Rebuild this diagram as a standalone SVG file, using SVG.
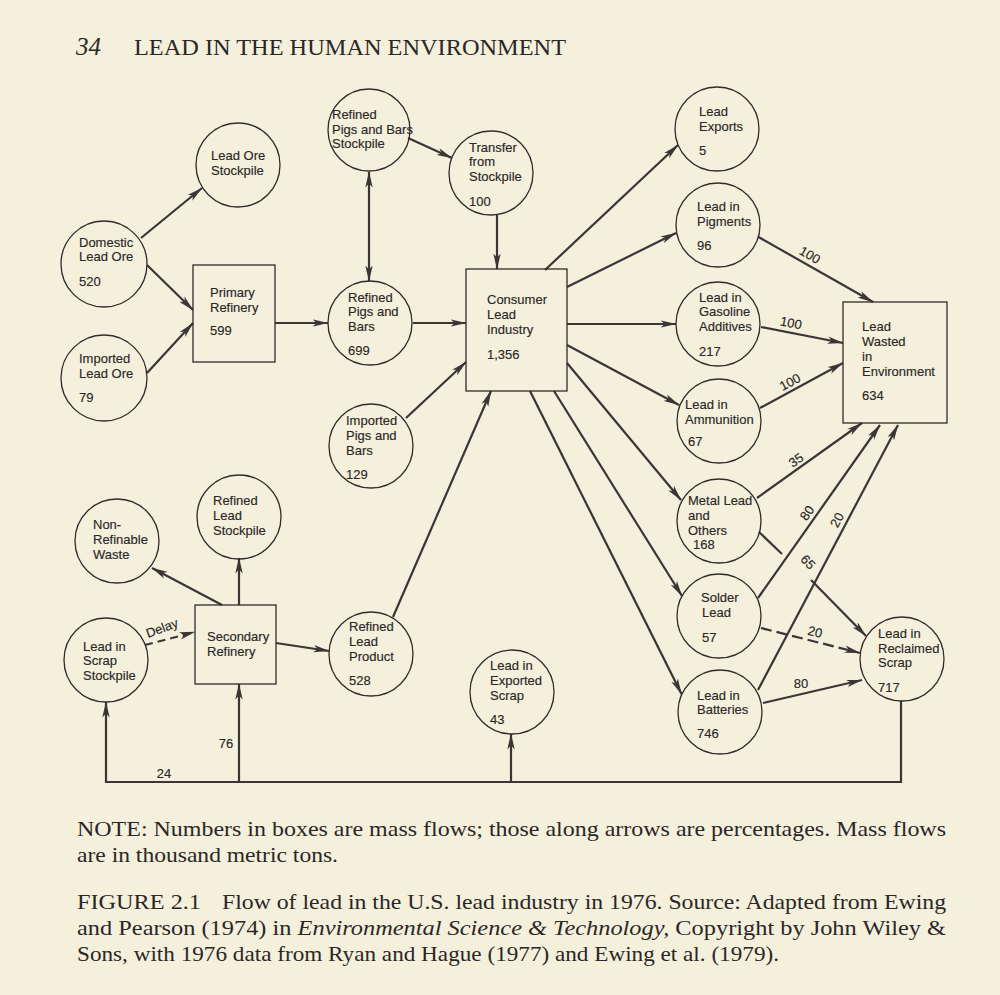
<svg xmlns="http://www.w3.org/2000/svg" width="1000" height="995" viewBox="0 0 1000 995">
<style>
.bg{fill:#f4f0dc}
.nd{fill:none;stroke:#2f2b2b;stroke-width:1.3}
.t{font-family:"Liberation Sans",Arial,sans-serif;font-size:13px;fill:#2b2727;stroke:#2b2727;stroke-width:0.15}
.l{font-family:"Liberation Sans",Arial,sans-serif;font-size:13px;fill:#2b2727;stroke:#2b2727;stroke-width:0.15;text-anchor:middle;dominant-baseline:central}
.c{fill:none;stroke:#3b3636;stroke-width:2.2;marker-end:url(#ah)}
.cn{fill:none;stroke:#3b3636;stroke-width:2.2}
.d{stroke-dasharray:11 5}
.hd{font-family:"Liberation Serif","Times New Roman",serif;fill:#2b2727}
.cap{font-family:"Liberation Serif","Times New Roman",serif;font-size:21.5px;fill:#2b2727}
</style>
<defs>
<marker id="ah" viewBox="0 0 16 8" refX="15.5" refY="4" markerWidth="16" markerHeight="8" markerUnits="userSpaceOnUse" orient="auto-start-reverse">
<path d="M0,0.3 L16,4 L0,7.7 L4,4 z" fill="#3b3636"/>
</marker>
</defs>
<rect class="bg" x="0" y="0" width="1000" height="995"/>

<g id="header">
<text class="hd" x="76" y="55" font-size="25" font-style="italic">34</text>
<text class="hd" x="134" y="55" font-size="23" textLength="432" lengthAdjust="spacingAndGlyphs">LEAD IN THE HUMAN ENVIRONMENT</text>
</g>

<g id="connectors">
<line class="c" x1="141" y1="238" x2="202" y2="188"/>
<line class="c" x1="147" y1="265" x2="193" y2="310"/>
<line class="c" x1="147" y1="373" x2="193" y2="323"/>
<line class="c" x1="275" y1="323" x2="328" y2="323"/>
<line class="c" x1="369" y1="172" x2="369" y2="281" marker-start="url(#ah)"/>
<line class="c" x1="408" y1="138" x2="452" y2="158"/>
<line class="c" x1="497" y1="214" x2="497" y2="269"/>
<line class="c" x1="413" y1="323" x2="466" y2="323"/>
<line class="c" x1="406" y1="418" x2="466" y2="362"/>
<line class="c" x1="393" y1="617" x2="491" y2="391"/>
<line class="c" x1="545" y1="270" x2="678" y2="145"/>
<line class="c" x1="567" y1="287" x2="676" y2="233"/>
<line class="c" x1="567" y1="324" x2="676" y2="324"/>
<line class="c" x1="567" y1="345" x2="679" y2="405"/>
<line class="c" x1="567" y1="363" x2="681" y2="500"/>
<line class="c" x1="554" y1="391" x2="682" y2="596"/>
<line class="c" x1="530" y1="391" x2="681.5" y2="694"/>
<line class="c" x1="758.5" y1="237" x2="873" y2="302"/>
<line class="c" x1="761" y1="327" x2="843" y2="343"/>
<line class="c" x1="760" y1="408" x2="843" y2="363"/>
<line class="c" x1="757" y1="498" x2="862" y2="423"/>
<line class="c" x1="758" y1="598" x2="880" y2="425"/>
<line class="c" x1="758" y1="690" x2="898" y2="425"/>
<line class="cn" x1="759" y1="532" x2="782" y2="554"/>
<line class="c" x1="811" y1="580" x2="866" y2="636"/>
<line class="c d" x1="761" y1="628" x2="860" y2="653"/>
<line class="c" x1="763" y1="703" x2="862" y2="680"/>
<line class="c" x1="222" y1="605" x2="152" y2="568"/>
<line class="c" x1="239" y1="605" x2="239" y2="558"/>
<line class="c" x1="276" y1="643" x2="329" y2="651"/>
<line class="c" stroke-dasharray="8 5" x1="145" y1="645" x2="195" y2="632"/>
<path class="c" d="M901,701 V782 H106 V702"/>
<line class="c" x1="239" y1="782" x2="239" y2="684"/>
<line class="c" x1="511" y1="782" x2="511" y2="734"/>
<text class="l" x="810" y="255" transform="rotate(30 810 255)">100</text>
<text class="l" x="791" y="323" transform="rotate(11 791 323)">100</text>
<text class="l" x="790" y="382" transform="rotate(-28 790 382)">100</text>
<text class="l" x="796" y="460" transform="rotate(-36 796 460)">35</text>
<text class="l" x="807" y="513" transform="rotate(-55 807 513)">80</text>
<text class="l" x="837" y="520" transform="rotate(-62 837 520)">20</text>
<text class="l" x="808" y="562" transform="rotate(48 808 562)">65</text>
<text class="l" x="815" y="632" transform="rotate(14 815 632)">20</text>
<text class="l" x="801" y="683">80</text>
<text class="l" x="164" y="773">24</text>
<text class="l" x="226" y="743">76</text>
<text class="l" x="162" y="628" transform="rotate(-20 162 628)">Delay</text>
</g>

<g id="lead-ore-stockpile"><circle class="nd" cx="238" cy="165" r="42"/><text class="t" x="211" y="160">Lead Ore</text><text class="t" x="211" y="175">Stockpile</text></g>
<g id="domestic-lead-ore"><circle class="nd" cx="104" cy="264" r="43"/><text class="t" x="79" y="247">Domestic</text><text class="t" x="79" y="261">Lead Ore</text><text class="t" x="79" y="286">520</text></g>
<g id="imported-lead-ore"><circle class="nd" cx="104" cy="378" r="43"/><text class="t" x="79" y="363">Imported</text><text class="t" x="79" y="378">Lead Ore</text><text class="t" x="79" y="402">79</text></g>
<g id="primary-refinery"><rect class="nd" x="193" y="265" width="82" height="97"/><text class="t" x="210" y="297">Primary</text><text class="t" x="210" y="312">Refinery</text><text class="t" x="210" y="335">599</text></g>
<g id="refined-pigs-bars"><circle class="nd" cx="370" cy="323" r="42"/><text class="t" x="348" y="302">Refined</text><text class="t" x="348" y="316">Pigs and</text><text class="t" x="348" y="331">Bars</text><text class="t" x="348" y="355">699</text></g>
<g id="pigs-bars-stockpile"><circle class="nd" cx="369" cy="130" r="41"/><text class="t" x="332" y="118.5">Refined</text><text class="t" x="332" y="133.5">Pigs and Bars</text><text class="t" x="332" y="148">Stockpile</text></g>
<g id="transfer-from-stockpile"><circle class="nd" cx="491" cy="173" r="42"/><text class="t" x="469" y="152">Transfer</text><text class="t" x="469" y="166">from</text><text class="t" x="469" y="181">Stockpile</text><text class="t" x="469" y="205.5">100</text></g>
<g id="consumer-lead-industry"><rect class="nd" x="466" y="269" width="101" height="122"/><text class="t" x="487" y="304">Consumer</text><text class="t" x="487" y="318.5">Lead</text><text class="t" x="487" y="333.5">Industry</text><text class="t" x="487" y="358.5">1,356</text></g>
<g id="imported-pigs-bars"><circle class="nd" cx="371" cy="446" r="42"/><text class="t" x="346" y="425">Imported</text><text class="t" x="346" y="439.5">Pigs and</text><text class="t" x="346" y="454.5">Bars</text><text class="t" x="346" y="478.5">129</text></g>
<g id="lead-exports"><circle class="nd" cx="717" cy="129" r="42"/><text class="t" x="699" y="116">Lead</text><text class="t" x="699" y="130.5">Exports</text><text class="t" x="699" y="155">5</text></g>
<g id="lead-in-pigments"><circle class="nd" cx="718" cy="225" r="42"/><text class="t" x="697" y="210.5">Lead in</text><text class="t" x="697" y="225.5">Pigments</text><text class="t" x="697" y="250">96</text></g>
<g id="lead-in-gasoline"><circle class="nd" cx="718" cy="324" r="42"/><text class="t" x="699" y="302">Lead in</text><text class="t" x="699" y="316">Gasoline</text><text class="t" x="699" y="331">Additives</text><text class="t" x="699" y="355.5">217</text></g>
<g id="lead-in-ammunition"><circle class="nd" cx="719" cy="421" r="42"/><text class="t" x="685" y="409">Lead in</text><text class="t" x="685" y="424">Ammunition</text><text class="t" x="688" y="446">67</text></g>
<g id="lead-wasted"><rect class="nd" x="843" y="302" width="104" height="121"/><text class="t" x="862" y="331">Lead</text><text class="t" x="862" y="346">Wasted</text><text class="t" x="862" y="361">in</text><text class="t" x="862" y="375.5">Environment</text><text class="t" x="862" y="399.5">634</text></g>
<g id="metal-lead-others"><circle class="nd" cx="719" cy="521" r="42"/><text class="t" x="688" y="505">Metal Lead</text><text class="t" x="688" y="520">and</text><text class="t" x="688" y="534.5">Others</text><text class="t" x="693" y="549">168</text></g>
<g id="solder-lead"><circle class="nd" cx="719" cy="616" r="42"/><text class="t" x="701" y="602">Solder</text><text class="t" x="702" y="617">Lead</text><text class="t" x="702" y="642">57</text></g>
<g id="lead-in-batteries"><circle class="nd" cx="720" cy="712" r="42"/><text class="t" x="697" y="699.5">Lead in</text><text class="t" x="697" y="714">Batteries</text><text class="t" x="697" y="738">746</text></g>
<g id="reclaimed-scrap"><circle class="nd" cx="902" cy="659" r="42"/><text class="t" x="878" y="638">Lead in</text><text class="t" x="878" y="653">Reclaimed</text><text class="t" x="878" y="667">Scrap</text><text class="t" x="878" y="692">717</text></g>
<g id="exported-scrap"><circle class="nd" cx="512" cy="692" r="42"/><text class="t" x="490" y="670">Lead in</text><text class="t" x="490" y="684.5">Exported</text><text class="t" x="490" y="700">Scrap</text><text class="t" x="490" y="724">43</text></g>
<g id="non-refinable-waste"><circle class="nd" cx="117" cy="541" r="42"/><text class="t" x="93" y="529">Non-</text><text class="t" x="93" y="544">Refinable</text><text class="t" x="93" y="558.5">Waste</text></g>
<g id="refined-lead-stockpile"><circle class="nd" cx="239" cy="517" r="42"/><text class="t" x="213" y="505">Refined</text><text class="t" x="213" y="519.5">Lead</text><text class="t" x="213" y="534.5">Stockpile</text></g>
<g id="scrap-stockpile"><circle class="nd" cx="106" cy="660" r="42"/><text class="t" x="83" y="650.5">Lead in</text><text class="t" x="83" y="665">Scrap</text><text class="t" x="83" y="679.5">Stockpile</text></g>
<g id="secondary-refinery"><rect class="nd" x="195" y="605" width="81" height="79"/><text class="t" x="207" y="641">Secondary</text><text class="t" x="207" y="656">Refinery</text></g>
<g id="refined-lead-product"><circle class="nd" cx="371" cy="654" r="42"/><text class="t" x="349" y="631">Refined</text><text class="t" x="349" y="646">Lead</text><text class="t" x="349" y="660.5">Product</text><text class="t" x="349" y="684.5">528</text></g>

<g id="caption">
<text class="cap" x="77" y="836" textLength="869" lengthAdjust="spacingAndGlyphs">NOTE: Numbers in boxes are mass flows; those along arrows are percentages. Mass flows</text>
<text class="cap" x="77" y="862" textLength="261" lengthAdjust="spacingAndGlyphs">are in thousand metric tons.</text>
<text class="cap" x="77" y="909" textLength="124" lengthAdjust="spacingAndGlyphs">FIGURE 2.1</text>
<text class="cap" x="222" y="909" textLength="724" lengthAdjust="spacingAndGlyphs">Flow of lead in the U.S. lead industry in 1976. Source: Adapted from Ewing</text>
<text class="cap" x="77" y="935" textLength="869" lengthAdjust="spacingAndGlyphs">and Pearson (1974) in <tspan font-style="italic">Environmental Science &amp; Technology,</tspan> Copyright by John Wiley &amp;</text>
<text class="cap" x="77" y="961" textLength="702" lengthAdjust="spacingAndGlyphs">Sons, with 1976 data from Ryan and Hague (1977) and Ewing et al. (1979).</text>
</g>
</svg>
